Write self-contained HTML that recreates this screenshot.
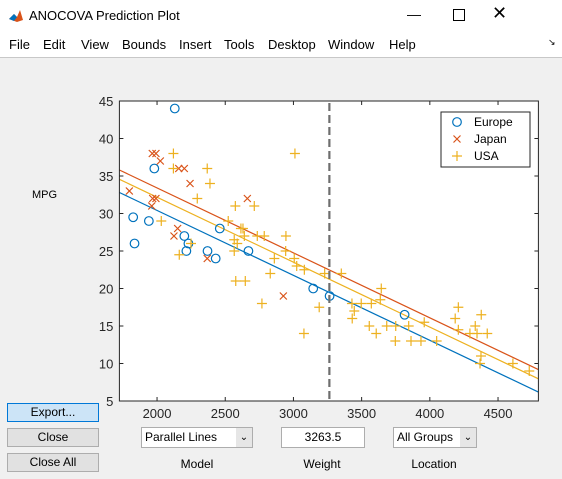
<!DOCTYPE html>
<html><head><meta charset="utf-8"><style>
body{margin:0;width:562px;height:479px;overflow:hidden;background:#f0f0f0;font-family:"Liberation Sans",Arial,sans-serif;position:relative}
.abs{position:absolute}
#titlebar{left:0;top:0;width:562px;height:31px;background:#fff}
#menubar{left:0;top:31px;width:562px;height:26px;background:#fff;border-bottom:1px solid #c8c8c8}
.menu{position:absolute;top:6px;font-size:13px;color:#000}
.btn{position:absolute;left:7px;width:90px;height:17px;border:1px solid #adadad;background:#e1e1e1;font-size:12px;text-align:center;line-height:17px}
.dd{position:absolute;height:19px;border:1px solid #adadad;background:#fff;font-size:12px;line-height:19px}
.dd .arr{position:absolute;right:0;top:0;width:16px;height:19px;background:#e6e6e6;text-align:center;font-size:10px}
.lbl{position:absolute;font-size:12px;text-align:center}
</style></head><body>
<div id="titlebar" class="abs">
  <svg class="abs" style="left:8px;top:8px" width="16" height="16"><polygon points="1,11 6,6 9,9 12,2 15,12 9,14" fill="#d95319"/><polygon points="1,11 6,6 9,9 6,13" fill="#0072bd"/></svg>
  <div class="abs" style="left:29px;top:8px;font-size:13px">ANOCOVA Prediction Plot</div>
  <div class="abs" style="left:407px;top:6px;font-size:14px">—</div>
  <div class="abs" style="left:453px;top:9px;width:10px;height:10px;border:1px solid #000"></div>
  <div class="abs" style="left:492px;top:3px;font-size:18px">✕</div>
</div>
<div id="menubar" class="abs">
  <span class="menu" style="left:9px">File</span>
  <span class="menu" style="left:43px">Edit</span>
  <span class="menu" style="left:81px">View</span>
  <span class="menu" style="left:122px">Bounds</span>
  <span class="menu" style="left:179px">Insert</span>
  <span class="menu" style="left:224px">Tools</span>
  <span class="menu" style="left:268px">Desktop</span>
  <span class="menu" style="left:328px">Window</span>
  <span class="menu" style="left:389px">Help</span>
  <span class="menu" style="left:548px;font-size:9px">↘</span>
</div>
<div class="abs" style="left:32px;top:189px;font-size:11px">MPG</div>
<svg id="chart" class="abs" style="left:0;top:0" width="562" height="479"></svg>
<div class="btn" style="top:403px;background:#cce4f7;border-color:#0078d7">Export...</div>
<div class="btn" style="top:428px">Close</div>
<div class="btn" style="top:453px">Close All</div>
<div class="dd" style="left:141px;top:427px;width:110px"><span style="padding-left:3px">Parallel Lines</span><span class="arr">&#8964;</span></div>
<div class="dd" style="left:281px;top:427px;width:82px;text-align:center">3263.5</div>
<div class="dd" style="left:393px;top:427px;width:82px"><span style="padding-left:3px">All Groups</span><span class="arr">&#8964;</span></div>
<div class="lbl" style="left:157px;top:457px;width:80px">Model</div>
<div class="lbl" style="left:282px;top:457px;width:80px">Weight</div>
<div class="lbl" style="left:394px;top:457px;width:80px">Location</div>
<script>
const xTicks=[2000,2500,3000,3500,4000,4500];
const yTicks=[5,10,15,20,25,30,35,40,45];
const groups=["Europe","Japan","USA"];
const europeX=[2130,1980,1825,1835,1940,2200,2230,2215,2370,2430,2460,2670,3145,3265,3815];
const europeY=[44,36,29.5,26,29,27,26,25,25,24,28,25,20,19,16.5];
const japanX=[1797,1965,1992,2024,1968,1992,1961,2159,2200,2242,2151,2124,2662,2368,2926];
const japanY=[33,38,38,37,32,32,31,36,36,34,28,27,32,24,19];
const usaX=[2120,2120,2368,2388,2295,3011,2574,2713,2031,2522,2615,2630,2566,2588,2640,2735,2786,2945,2249,2163,2566,2943,2860,3006,3024,3080,3229,2830,2577,2647,2769,3189,3077,3351,3644,3429,3497,3571,3637,3446,3431,4209,4186,4377,3959,3556,3684,3750,3845,4333,4209,3607,4294,4346,4421,3747,3862,3935,4050,4375,4368,4609,4729];
const usaY=[38,36,36,34,32,38,31,31,29,29,28,28,26.5,26,27,27,27,27,26,24.5,25,25,24,24,23,22.5,22,22,21,21,18,17.5,14,22,20,18,18,18,18.5,17,16,17.5,16,16.5,15.5,15,15,15,15,15,14.5,14,14,14,14,13,13,13,13,11,10,10,9];
const intercepts=[47.73,50.73,49.49];
const slope=-0.00866;
const refWeight=3263.5;
const xMin=1724,xMax=4796,yMin=5,yMax=45;
const L=119.4,R=538.4,T=101,B=401;
const sx=v=>L+(v-xMin)/(xMax-xMin)*(R-L);
const sy=v=>B-(v-yMin)/(yMax-yMin)*(B-T);
const colors=["#0072BD","#D95319","#EDB120"];
const svg=document.getElementById('chart');
const NS="http://www.w3.org/2000/svg";
function mk(tag,attrs){const e=document.createElementNS(NS,tag);for(const k in attrs)e.setAttribute(k,attrs[k]);svg.appendChild(e);return e;}
const bg=mk('rect',{x:L,y:T,width:R-L,height:B-T,fill:'#fff'});


xTicks.forEach(t=>{
  const x=sx(t);
  const tk=mk('path',{d:`M${x},${B}v-4M${x},${T}v4`,stroke:'#262626','stroke-width':1});
  
  
  const tx=mk('text',{x:x,y:B+17,'text-anchor':'middle','font-size':13,fill:'#262626','font-family':'Liberation Sans, sans-serif'});
  tx.textContent=t;
  
  
});
yTicks.forEach(t=>{
  const y=sy(t);
  const tk=mk('path',{d:`M${L},${y}h4M${R},${y}h-4`,stroke:'#262626','stroke-width':1});
  
  
  const tx=mk('text',{x:L-6,y:y+5,'text-anchor':'end','font-size':13,fill:'#262626','font-family':'Liberation Sans, sans-serif'});
  tx.textContent=t;
  
  
});
intercepts.forEach((a,i)=>{
  const ln=mk('line',{x1:sx(xMin),y1:sy(a+slope*xMin),x2:sx(xMax),y2:sy(a+slope*xMax),stroke:colors[i],'stroke-width':1.2});
  
  
});
function marker(kind,x,y,c){
  let e;
  if(kind==0)e=mk('circle',{cx:x,cy:y,r:4.3,fill:'none',stroke:c,'stroke-width':1.2});
  else if(kind==1)e=mk('path',{d:`M${x-3.5},${y-3.5}L${x+3.5},${y+3.5}M${x-3.5},${y+3.5}L${x+3.5},${y-3.5}`,stroke:c,'stroke-width':1.2});
  else e=mk('path',{d:`M${x-5},${y}h10M${x},${y-5}v10`,stroke:c,'stroke-width':1.2});
  return e;
}
[[europeX,europeY],[japanX,japanY],[usaX,usaY]].forEach((s,g)=>{
  s[0].forEach((xv,i)=>{
    const m=marker(g,sx(xv),sy(s[1][i]),colors[g]);
    
    
  });
});
const ref=mk('line',{x1:sx(refWeight),y1:T+2,x2:sx(refWeight),y2:B,stroke:'#6e6e6e','stroke-width':2.2,'stroke-dasharray':'8,4'});


const frame=mk('rect',{x:L,y:T,width:R-L,height:B-T,fill:'none',stroke:'#262626','stroke-width':1});


const lg=mk('rect',{x:441,y:112,width:89,height:55,fill:'#fff',stroke:'#262626','stroke-width':1});


groups.forEach((g,i)=>{
  const y=122+i*17;
  const m=marker(i,457,y,colors[i]);
  
  
  const t=mk('text',{x:474,y:y+4,'font-size':12,fill:'#000','font-family':'Liberation Sans, sans-serif'});
  t.textContent=g;
  
  
});
</script>
</body></html>
